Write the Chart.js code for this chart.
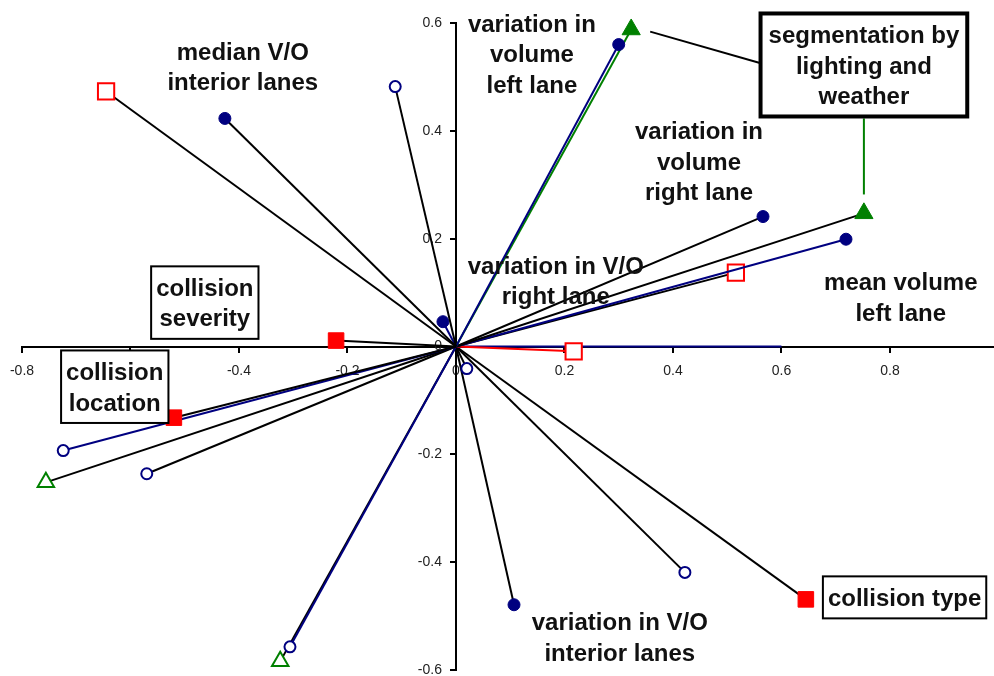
<!DOCTYPE html>
<html>
<head>
<meta charset="utf-8">
<script src="https://cdn.jsdelivr.net/npm/chart.js@4"></script>
<style>
  body { margin: 0; background: #fff; }
</style>
</head>
<body>
<canvas id="canvas" width="994" height="676"></canvas>
<script>
// vector end points (each one is drawn as a line from the origin)
const vecX = [-0.645, -0.426, -0.112, -0.024, 0.300, 0.323, 0.566, 0.752, 0.719, 0.516, 0.217, 0.600,
  -0.221, -0.520, -0.724, -0.756, -0.570, -0.306, -0.324, 0.020, 0.107, 0.422, 0.645]
const vecY = [0.473, 0.423, 0.482, 0.046, 0.560, 0.588, 0.241, 0.247, 0.199, 0.137, -0.009, 0.000,
  0.011, -0.132, -0.193, -0.252, -0.236, -0.557, -0.584, -0.041, -0.479, -0.419, -0.469]

const xTicks = [-0.8, -0.6, -0.4, -0.2, 0, 0.2, 0.4, 0.6, 0.8]
const yTicks = [-0.6, -0.4, -0.2, 0, 0.2, 0.4, 0.6]

// text labels: lines, anchor (x, y of first line) in data units
const labelText = [
  ['median V/O', 'interior lanes'],
  ['variation in', 'volume', 'left lane'],
  ['variation in', 'volume', 'right lane'],
  ['variation in V/O', 'right lane'],
  ['mean volume', 'left lane'],
  ['variation in V/O', 'interior lanes'],
  ['segmentation by', 'lighting and', 'weather'],
  ['collision', 'severity'],
  ['collision', 'location'],
  ['collision type'],
]
const labelX = [-0.393, 0.140, 0.448, 0.184, 0.820, 0.302, 0.752, -0.463, -0.629, 0.827]
const labelY = [0.544, 0.596, 0.397, 0.147, 0.117, -0.514, 0.575, 0.106, -0.050, -0.469]

// styles per vector (kept apart from the values)
const vecMarker = ['box', 'dot', 'ring', 'dot', 'dot', 'tri', 'dot', 'tri', 'dot', 'box', 'box', 'none',
  'block', 'block', 'ring', 'otri', 'ring', 'ring', 'otri', 'ring', 'dot', 'ring', 'block']
const vecLine = ['k', 'k', 'k', 'n', 'n', 'g', 'k', 'k', 'n', 'k', 'r', 'n',
  'k', 'k', 'n', 'k', 'k', 'n', 'k', 'k', 'k', 'k', 'k']
const labelBox = [0, 0, 0, 0, 0, 0, 4, 2, 2, 2]

const colors = { k: '#000000', n: '#000080', g: '#008000', r: '#ff0000' }
const markers = {
  dot: { style: 'circle', r: 6, fill: '#000080', stroke: '#000080', w: 1 },
  ring: { style: 'circle', r: 5.5, fill: '#ffffff', stroke: '#000080', w: 2 },
  box: { style: 'rect', r: 11.5, fill: '#ffffff', stroke: '#ff0000', w: 2 },
  block: { style: 'rect', r: 11, fill: '#ff0000', stroke: '#ff0000', w: 1 },
  tri: { style: 'triangle', r: 10.5, fill: '#008000', stroke: '#008000', w: 1 },
  otri: { style: 'triangle', r: 9.5, fill: '#ffffff', stroke: '#008000', w: 2 },
  none: { style: 'circle', r: 0, fill: '#000', stroke: '#000', w: 0 },
}

const datasets = vecX.map((x, i) => {
  const m = markers[vecMarker[i]]
  return {
    data: [{ x: 0, y: 0 }, { x: x, y: vecY[i] }],
    showLine: true,
    clip: false,
    borderColor: colors[vecLine[i]],
    borderWidth: 2,
    pointStyle: m.style,
    pointRadius: (ctx) => (ctx.dataIndex === 0 ? 0 : m.r),
    pointBackgroundColor: m.fill,
    pointBorderColor: m.stroke,
    pointBorderWidth: m.w,
  }
})

const labelsPlugin = {
  id: 'labels',
  afterDraw(chart) {
    const ctx = chart.ctx
    const sx = chart.scales.x, sy = chart.scales.y
    ctx.save()
    // connector lines
    ctx.lineWidth = 2
    ctx.strokeStyle = '#000'
    ctx.beginPath()
    ctx.moveTo(sx.getPixelForValue(0.358), sy.getPixelForValue(0.584))
    ctx.lineTo(sx.getPixelForValue(0.570), sy.getPixelForValue(0.523))
    ctx.stroke()
    ctx.strokeStyle = '#008000'
    ctx.beginPath()
    ctx.moveTo(sx.getPixelForValue(0.752), sy.getPixelForValue(0.423))
    ctx.lineTo(sx.getPixelForValue(0.752), sy.getPixelForValue(0.282))
    ctx.stroke()

    ctx.font = 'bold 24px "Liberation Sans", Arial, sans-serif'
    ctx.textAlign = 'center'
    ctx.textBaseline = 'middle'
    const lh = 30.5
    labelText.forEach((lines, i) => {
      const cx = sx.getPixelForValue(labelX[i])
      const cy = sy.getPixelForValue(labelY[i])
      if (labelBox[i]) {
        const w = Math.max(...lines.map((t) => ctx.measureText(t).width))
        const pad = labelBox[i] > 2 ? 8 : 5
        const left = cx - w / 2 - pad
        const top = cy - 23
        const h = (lines.length - 1) * lh + 42
        ctx.fillStyle = '#fff'
        ctx.fillRect(left, top, w + 2 * pad, h)
        ctx.lineWidth = labelBox[i]
        ctx.strokeStyle = '#000'
        ctx.strokeRect(left, top, w + 2 * pad, h)
      }
      ctx.fillStyle = '#111'
      lines.forEach((t, j) => ctx.fillText(t, cx, cy + j * lh))
    })
    ctx.restore()
  },
}

const tickFont = { family: '"Liberation Sans", Arial, sans-serif', size: 14 }
const noPadding = (s) => {
  s.paddingTop = 0
  s.paddingBottom = 0
  s.paddingLeft = 0
  s.paddingRight = 0
}

const config = {
  type: 'scatter',
  data: { datasets: datasets },
  options: {
    responsive: false,
    animation: false,
    layout: { autoPadding: false, padding: { left: 22, top: 23, right: 1, bottom: 6 } },
    plugins: { legend: { display: false }, tooltip: { enabled: false } },
    scales: {
      x: {
        type: 'linear',
        min: -0.8,
        max: 0.99,
        position: { y: 0 },
        afterBuildTicks: (s) => { s.ticks = xTicks.map((v) => ({ value: v })) },
        afterFit: noPadding,
        grid: { drawOnChartArea: false, tickLength: 5, color: '#000', lineWidth: 2 },
        border: { color: '#000', width: 2 },
        ticks: { font: tickFont, color: '#222', padding: 11, maxRotation: 0, autoSkip: false },
      },
      y: {
        type: 'linear',
        min: -0.6,
        max: 0.6,
        position: { x: 0 },
        afterBuildTicks: (s) => { s.ticks = yTicks.map((v) => ({ value: v })) },
        afterFit: noPadding,
        grid: { drawOnChartArea: false, tickLength: 5, color: '#000', lineWidth: 2 },
        border: { color: '#000', width: 2 },
        ticks: {
          font: tickFont,
          color: '#222',
          padding: 0,
          autoSkip: false,
          callback: (v) => v + '\u2002\u2002',
        },
      },
    },
  },
  plugins: [labelsPlugin],
}

const chart = new Chart(document.getElementById('canvas'), config)
</script>
</body>
</html>
